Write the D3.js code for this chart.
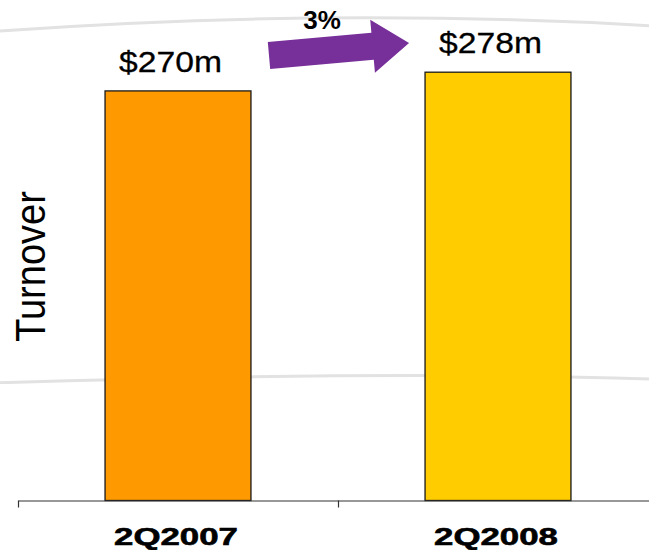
<!DOCTYPE html>
<html>
<head>
<meta charset="utf-8">
<script src="https://cdn.jsdelivr.net/npm/d3@7"></script>
<style>
  html, body { margin: 0; padding: 0; background: #fff; }
  svg { display: block; font-family: "Liberation Sans", Arial, sans-serif; }
</style>
</head>
<body>
<svg id="chart" width="649" height="550"></svg>
<script>
// Quarterly turnover, US$ millions
const categories = ["2Q2007", "2Q2008"];
const turnover = [270, 278];
const barColors = ["#FF9900", "#FFCC00"];
const yDomain = [95, 300];

const W = 649, H = 550;
const svg = d3.select("#chart");

// soft background sweeps
const defs = svg.append("defs");
defs.append("filter").attr("id", "soft")
  .append("feGaussianBlur").attr("stdDeviation", 0.7);

const sweep = (x0, y0, cx, cy, x1, y1) => {
  const p = d3.path();
  p.moveTo(x0, y0);
  p.quadraticCurveTo(cx, cy, x1, y1);
  return p.toString();
};
svg.append("path")
  .attr("d", sweep(0, 31, 330, 7.5, W, 25.7))
  .attr("fill", "none").attr("stroke", "#e2e2e2").attr("stroke-width", 3)
  .attr("filter", "url(#soft)");
svg.append("path")
  .attr("d", sweep(0, 382.7, 390, 370.5, W, 379))
  .attr("fill", "none").attr("stroke", "#e2e2e2").attr("stroke-width", 3)
  .attr("filter", "url(#soft)");

// scales
const x = d3.scaleBand().domain(categories).range([18, 658]);
const y = d3.scaleLinear().domain(yDomain).range([500.5, 20.7]);
const barW = x.bandwidth() * 0.456;

// bars
svg.append("g").selectAll("rect")
  .data(categories)
  .join("rect")
  .attr("x", (c) => x(c) + (x.bandwidth() - barW) / 2)
  .attr("y", (c, i) => y(turnover[i]))
  .attr("width", barW)
  .attr("height", (c, i) => y(yDomain[0]) - y(turnover[i]))
  .attr("fill", (c, i) => barColors[i])
  .attr("stroke", "#1a1a1a")
  .attr("stroke-width", 1.3);

// value labels
const money = (v) => "$" + d3.format("d")(v) + "m";
svg.append("g").selectAll("text")
  .data(categories)
  .join("text")
  .attr("transform", (c, i) =>
    `translate(${x(c) + x.bandwidth() / 2 - 7.5},${y(turnover[i]) - 19}) scale(1.16,1)`)
  .attr("text-anchor", "middle")
  .attr("font-size", 29)
  .attr("fill", "#000")
  .attr("stroke", "#000")
  .attr("stroke-width", 0.3)
  .text((c, i) => money(turnover[i]));

// x axis with ticks on the category boundaries
const xb = d3.scaleLinear().domain([0, categories.length]).range([18, 658]);
const axis = svg.append("g")
  .attr("transform", `translate(0,${y(yDomain[0])})`)
  .call(d3.axisBottom(xb)
    .tickValues(d3.range(categories.length + 1))
    .tickFormat("")
    .tickSize(7)
    .tickSizeOuter(0));
axis.select(".domain").attr("stroke", "#333").attr("stroke-width", 1.2);
axis.selectAll(".tick line").attr("stroke", "#333").attr("stroke-width", 1.2);

// category labels
svg.append("g").selectAll("text")
  .data(categories)
  .join("text")
  .attr("transform", (c) => `translate(${x(c) + x.bandwidth() / 2 - 2},545) scale(1.45,1)`)
  .attr("text-anchor", "middle")
  .attr("font-size", 24)
  .attr("font-weight", "bold")
  .attr("fill", "#000")
  .attr("stroke", "#000")
  .attr("stroke-width", 0.6)
  .text((c) => c);

// y axis title
svg.append("text")
  .attr("transform", "translate(45,266.5) scale(1.14,1) rotate(-90)")
  .attr("text-anchor", "middle")
  .attr("font-size", 38)
  .attr("fill", "#000")
  .text("Turnover");

// growth arrow
const growth = turnover[1] / turnover[0] - 1;
const arrowPts = [[0, -13.5], [104, -13.5], [104, -26.5], [140.6, 0], [104, 26.5], [104, 13.5], [0, 13.5]];
svg.append("path")
  .attr("transform", "translate(269,55.5) rotate(-5.1)")
  .attr("d", d3.line()(arrowPts) + "Z")
  .attr("fill", "#772F99");
svg.append("text")
  .attr("x", 322).attr("y", 29)
  .attr("text-anchor", "middle")
  .attr("font-size", 26)
  .attr("font-weight", "bold")
  .attr("fill", "#000")
  .text(d3.format(".0%")(growth));
</script>
</body>
</html>
